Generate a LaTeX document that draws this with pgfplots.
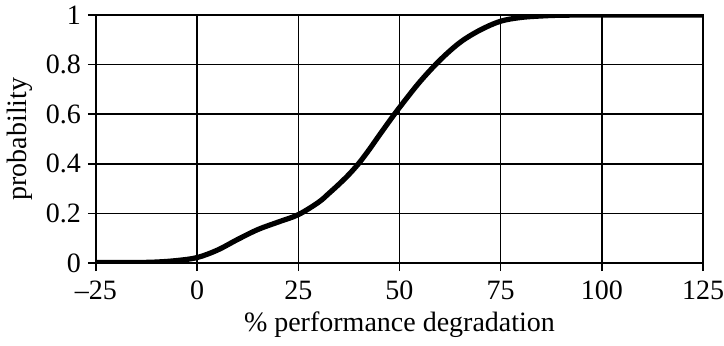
\documentclass[border=0pt]{standalone}
\usepackage{fontspec}
\setmainfont{Liberation Serif}
\usepackage{pgfplots}
\pgfplotsset{compat=1.18}
\begin{document}
\begin{tikzpicture}
\begin{axis}[
  scale only axis,
  width=303.5pt, height=124pt,
  xmin=-25, xmax=125, ymin=0, ymax=1,
  font=\fontsize{14}{17}\selectfont,
  xtick={-25,0,25,50,75,100,125},
  xticklabels={--25,0,25,50,75,100,125},
  ytick={0,0.2,0.4,0.6,0.8,1},
  yticklabels={0,0.2,0.4,0.6,0.8,1},
  grid=major,
  grid style={black, line width=0.8pt},
  axis line style={black, line width=0.9pt},
  tick style={black, line width=0.8pt},
  tick align=outside,
  major tick length=4pt,
  xtick pos=bottom, ytick pos=left,
  xticklabel style={yshift=-1.5pt},
  /pgf/number format/assume math mode=true,
  xlabel={\% performance degradation},
  ylabel={probability},
  xlabel style={yshift=1pt},
]
\addplot[black, line width=2.6pt, smooth, tension=0.55] coordinates {
(-25,0.002) (-20,0.002) (-15,0.002) (-10,0.004) (-5,0.01) (0,0.022)
(5,0.052) (10,0.095) (15,0.135) (20,0.165) (25,0.195) (30,0.245)
(32.5,0.28) (35,0.317) (37.5,0.357) (40,0.403) (42.5,0.457) (45,0.515)
(47.5,0.572) (50,0.627) (55,0.73) (60,0.818)
(65,0.89) (70,0.94) (75,0.975) (80,0.99) (85,0.996) (90,0.999)
(100,1.0) (125,1.0)
};
\end{axis}
\pgfresetboundingbox
\path (-48pt,-41pt) rectangle (314pt,131.5pt);
\end{tikzpicture}
\end{document}
